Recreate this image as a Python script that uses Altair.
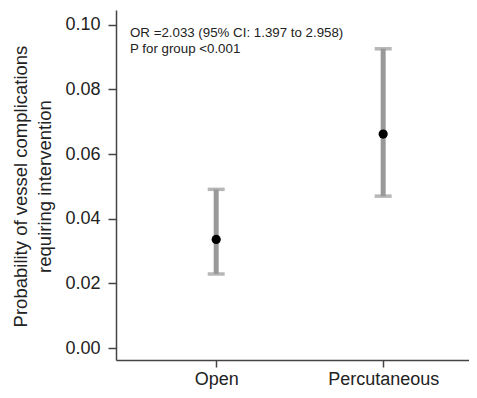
import altair as alt
import pandas as pd

groups = ["Open", "Percutaneous"]
xpos = [1, 2]
prob = [0.0336, 0.0662]
lower = [0.0229, 0.0470]
upper = [0.0491, 0.0926]

df = pd.DataFrame({"group": groups, "x": xpos, "p": prob, "lo": lower, "hi": upper})

FONT = "Liberation Sans"
GRAY = "#999999"
TXT = "#222222"

xscale = alt.Scale(domain=[0.4, 2.514], nice=False, zero=False)
yscale = alt.Scale(domain=[-0.00371, 0.1046], nice=False, zero=False)

xaxis = alt.Axis(values=[1, 2], labelExpr="datum.value == 1 ? 'Open' : 'Percutaneous'",
                 title=None, grid=False, labelFont=FONT, labelFontSize=18, labelColor=TXT,
                 labelPadding=3, tickSize=7, domainColor="#444", tickColor="#444", labelFlush=False)
yaxis = alt.Axis(values=[0, 0.02, 0.04, 0.06, 0.08, 0.10], format=".2f",
                 title=["Probability of vessel complications", "requiring intervention"],
                 titleFont=FONT, titleFontSize=18.5, titleFontWeight="normal", titleColor=TXT,
                 titleLineHeight=24, titlePadding=10, titleY=176,
                 grid=False, labelFont=FONT, labelFontSize=18, labelColor=TXT,
                 labelPadding=8, tickSize=8, domainColor="#444", tickColor="#444")

base = alt.Chart(df)

bars = base.mark_rule(color=GRAY, strokeWidth=5).encode(
    x=alt.X("x:Q", scale=xscale, axis=xaxis),
    y=alt.Y("lo:Q", scale=yscale, axis=yaxis),
    y2="hi:Q",
)
caps_lo = base.mark_tick(color=GRAY, orient="horizontal", size=17, thickness=3.5).encode(
    x=alt.X("x:Q", scale=xscale), y=alt.Y("lo:Q", scale=yscale))
caps_hi = base.mark_tick(color=GRAY, orient="horizontal", size=17, thickness=3.5).encode(
    x=alt.X("x:Q", scale=xscale), y=alt.Y("hi:Q", scale=yscale))
points = base.mark_circle(color="black", size=85, opacity=1).encode(
    x=alt.X("x:Q", scale=xscale), y=alt.Y("p:Q", scale=yscale))

annot_lines = ["OR =2.033 (95% CI: 1.397 to 2.958)", "P for group <0.001"]
annot = alt.Chart(pd.DataFrame({"t": [annot_lines]})).mark_text(
    align="left", baseline="top", font=FONT, fontSize=13.3, color=TXT, lineHeight=16
).encode(x=alt.value(14), y=alt.value(16), text="t")

chart = alt.layer(bars, caps_lo, caps_hi, points, annot).properties(
    width=353, height=350,
    autosize=alt.AutoSizeParams(type="none"),
    padding={"left": 108, "top": 2, "right": 0, "bottom": 30},
).configure_view(stroke=None).configure_axis(domainWidth=1.5, tickWidth=1.5)

chart.save("out.html", embed_options={"renderer": "svg", "actions": False})
